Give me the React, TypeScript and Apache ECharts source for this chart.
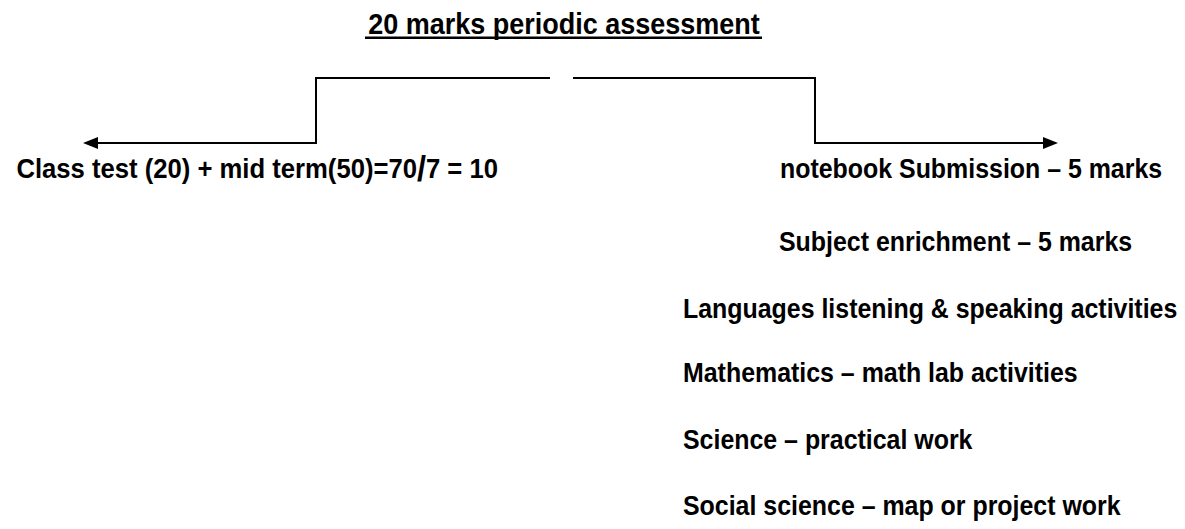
import React, { useEffect, useRef } from "react";
import * as echarts from "echarts";

const TITLE = "20 marks periodic assessment";
const LEFT_PARTS = ["Class test (20) + mid term(50)=70", "/", "7 = 10"];
const RIGHT_ITEMS = [
  "notebook Submission \u2013 5 marks",
  "Subject enrichment \u2013 5 marks",
  "Languages listening & speaking activities",
  "Mathematics \u2013 math lab activities",
  "Science \u2013 practical work",
  "Social science \u2013 map or project work",
];

const FONT = "'Liberation Sans', Arial, sans-serif";
const RIGHT_X = [780, 779, 683, 683, 683, 683];
const RIGHT_Y = [168, 241, 308, 372, 439, 505];

export default function App() {
  const ref = useRef<HTMLDivElement>(null);
  useEffect(() => {
    document.body.style.margin = "0";
    const chart = echarts.init(ref.current!, null, { renderer: "svg" });
    const stroke = { stroke: "#000", lineWidth: 2 };
    const graphic: any[] = [
      {
        type: "text",
        x: 564,
        y: 23,
        scaleX: 0.9,
        style: {
          text: TITLE,
          font: `bold 30px ${FONT}`,
          fill: "#000",
          align: "center",
          verticalAlign: "middle",
        },
      },
      { type: "rect", shape: { x: 365, y: 36.5, width: 397, height: 2.5 }, style: { fill: "#000" } },
      // top lines
      { type: "line", shape: { x1: 316, y1: 78, x2: 550, y2: 78 }, style: stroke },
      { type: "line", shape: { x1: 573, y1: 78, x2: 815, y2: 78 }, style: stroke },
      // verticals
      { type: "line", shape: { x1: 316, y1: 77, x2: 316, y2: 143 }, style: stroke },
      { type: "line", shape: { x1: 815, y1: 77, x2: 815, y2: 143 }, style: stroke },
      // bottom horizontals
      { type: "line", shape: { x1: 317, y1: 143, x2: 96, y2: 143 }, style: stroke },
      { type: "line", shape: { x1: 814, y1: 143, x2: 1045, y2: 143 }, style: stroke },
      // arrowheads
      { type: "polygon", shape: { points: [[83, 143], [98, 137], [98, 149]] }, style: { fill: "#000" } },
      { type: "polygon", shape: { points: [[1058, 143], [1043, 137], [1043, 149]] }, style: { fill: "#000" } },
      {
        type: "text",
        x: 498,
        y: 168,
        scaleX: 0.9,
        style: {
          text: `{a|${LEFT_PARTS[0]}}{b|${LEFT_PARTS[1]}}{a|${LEFT_PARTS[2]}}`,
          align: "right",
          verticalAlign: "middle",
          fill: "#000",
          rich: {
            a: { font: `bold 28.5px ${FONT}`, fill: "#000" },
            b: { font: `bold 36px ${FONT}`, fill: "#000" },
          },
        },
      },
    ];
    RIGHT_ITEMS.forEach((t, i) => {
      graphic.push({
        type: "text",
        x: RIGHT_X[i],
        y: RIGHT_Y[i],
        scaleX: 0.89,
        style: {
          text: t,
          font: `bold 28px ${FONT}`,
          fill: "#000",
          align: "left",
          verticalAlign: "middle",
        },
      });
    });
    chart.setOption({ animation: false, backgroundColor: "#fff", graphic });
    return () => chart.dispose();
  }, []);
  return <div ref={ref} style={{ width: 1185, height: 529 }} />;
}
